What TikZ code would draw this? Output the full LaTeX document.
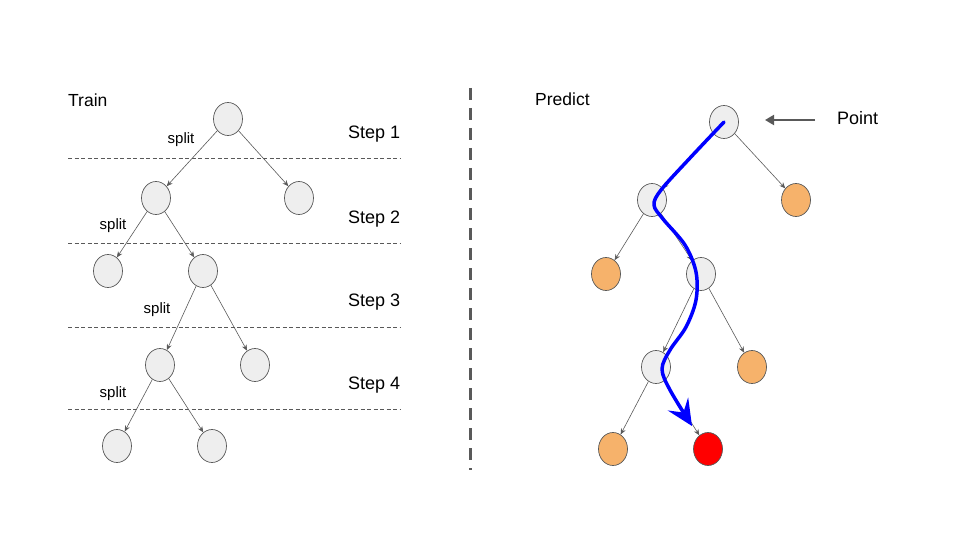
\documentclass[tikz,border=0pt]{standalone}
\usepackage{fontspec}
\setmainfont{Liberation Sans}
\usetikzlibrary{shapes.geometric,arrows.meta}
\definecolor{edgegray}{HTML}{595959}
\definecolor{nodegray}{HTML}{EEEEEE}
\definecolor{leaforange}{HTML}{F6B26B}
\begin{document}
\begin{tikzpicture}[x=1pt,y=-1pt,
  tnode/.style={ellipse,draw=edgegray,line width=0.7pt,fill=nodegray,minimum width=29pt,minimum height=33pt,inner sep=0pt},
  leaf/.style={tnode,fill=leaforange},
  hit/.style={tnode,fill=red},
  edge/.style={draw=edgegray,line width=0.6pt,-{Stealth[length=6pt,width=5pt]}},
  stepline/.style={draw=edgegray,line width=0.6pt,dash pattern=on 4pt off 2.5pt},
  steplbl/.style={font=\fontsize{18}{20}\selectfont,anchor=west,inner sep=0pt},
  splitlbl/.style={font=\fontsize{15}{17}\selectfont,inner sep=0pt},
  title/.style={font=\fontsize{17.5}{19}\selectfont,anchor=west,inner sep=0pt},
  path/.style={draw=blue,line width=3.5pt,line cap=round,line join=round,-{Stealth[length=26pt,width=24pt,inset=10pt]}}
]
\useasboundingbox (0,0) rectangle (960,540);
% Train tree
\node[title] (train) at (68,100) {Train};
\node[tnode] (a1) at (228,119) {};
\node[tnode] (a2) at (156,198) {};
\node[tnode] (a3) at (299,198) {};
\node[tnode] (a4) at (108,271) {};
\node[tnode] (a5) at (203,271) {};
\node[tnode] (a6) at (160,365) {};
\node[tnode] (a7) at (255,365) {};
\node[tnode] (a8) at (117,446) {};
\node[tnode] (a9) at (212,446) {};
\draw[edge] (a1) -- (a2);
\draw[edge] (a1) -- (a3);
\draw[edge] (a2) -- (a4);
\draw[edge] (a2) -- (a5);
\draw[edge] (a5) -- (a6);
\draw[edge] (a5) -- (a7);
\draw[edge] (a6) -- (a8);
\draw[edge] (a6) -- (a9);
\coordinate (l1a) at (68,158); \coordinate (l1b) at (400,158);
\coordinate (l2a) at (68,243); \coordinate (l2b) at (400,243);
\coordinate (l3a) at (68,327); \coordinate (l3b) at (400,327);
\coordinate (l4a) at (68,409); \coordinate (l4b) at (400,409);
\draw[stepline] (l1a) -- (l1b);
\draw[stepline] (l2a) -- (l2b);
\draw[stepline] (l3a) -- (l3b);
\draw[stepline] (l4a) -- (l4b);
\node[steplbl] (s1) at (348,134) {Step 1};
\node[steplbl] (s2) at (348,219) {Step 2};
\node[steplbl] (s3) at (348,302) {Step 3};
\node[steplbl] (s4) at (348,385) {Step 4};
\node[splitlbl] (sp1) at (181,140) {split};
\node[splitlbl] (sp2) at (113,226) {split};
\node[splitlbl] (sp3) at (157,310) {split};
\node[splitlbl] (sp4) at (113,394) {split};
% separator
\coordinate (sepa) at (470,88); \coordinate (sepb) at (470,470);
\draw[edgegray,line width=3pt,dash pattern=on 12pt off 8pt] (sepa) -- (sepb);
% Predict tree
\node[title] (predict) at (535,99) {Predict};
\node[tnode] (b1) at (724,122) {};
\node[tnode] (b2) at (652,200) {};
\node[leaf] (b3) at (796,200) {};
\node[leaf] (b4) at (606,274) {};
\node[tnode] (b5) at (701,274) {};
\node[tnode] (b6) at (656,367) {};
\node[leaf] (b7) at (752,367) {};
\node[leaf] (b8) at (613,449) {};
\node[hit] (b9) at (708,449) {};
\draw[edge] (b1) -- (b2);
\draw[edge] (b1) -- (b3);
\draw[edge] (b2) -- (b4);
\draw[edge] (b2) -- (b5);
\draw[edge] (b5) -- (b6);
\draw[edge] (b5) -- (b7);
\draw[edge] (b6) -- (b8);
\draw[edge] (b6) -- (b9);
\node[steplbl] (pt) at (837,118) {Point};
\coordinate (ptstart) at (815,120);
\coordinate (ptend) at (765,120);
\draw[draw=edgegray,line width=2pt,-{Triangle[length=9pt,width=10pt]}] (ptstart) -- (ptend);
\draw[path] plot[smooth,tension=0.55] coordinates {(b1.center) (690,158) (661,190) (654,205) (663,219) (685,245) (696,272) (696,300) (686,327) (670,350) (662,369) (670,390) (692,426)};
\end{tikzpicture}
\end{document}
